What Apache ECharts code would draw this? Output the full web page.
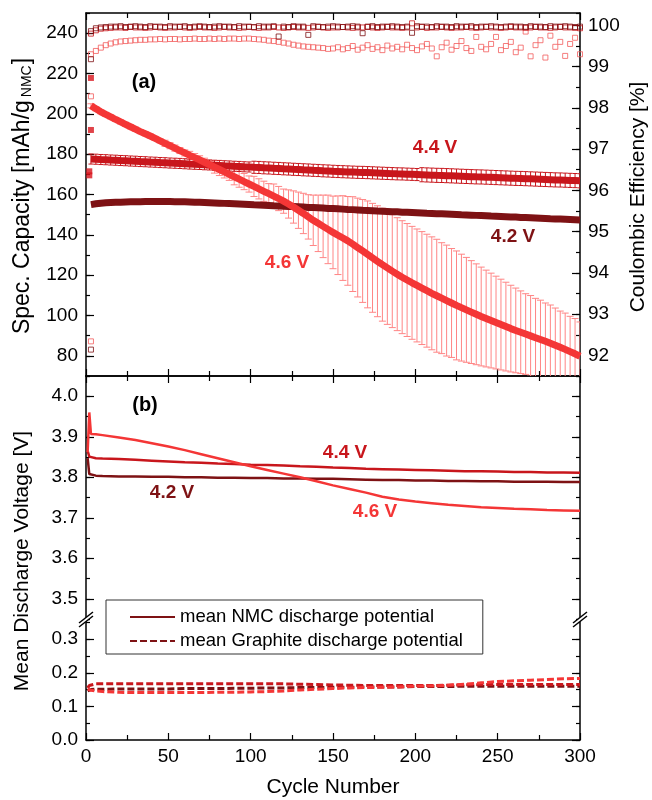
<!DOCTYPE html>
<html><head><meta charset="utf-8">
<script src="https://cdn.jsdelivr.net/npm/echarts@6.0.0/dist/echarts.min.js"></script>
<style>html,body{margin:0;padding:0;background:#fff}#c{width:652px;height:800px}</style>
</head><body><div id="c"></div>
<script>
// ---------- DATA ----------
const cycles = [3,6,9,12,15,18,21,24,27,30,33,36,39,42,45,48,51,54,57,60,63,66,69,72,75,78,81,84,87,90,93,96,99,102,105,108,111,114,117,120,123,126,129,132,135,138,141,144,147,150,153,156,159,162,165,168,171,174,177,180,183,186,189,192,195,198,201,204,207,210,213,216,219,222,225,228,231,234,237,240,243,246,249,252,255,258,261,264,267,270,273,276,279,282,285,288,291,294,297,300];
const cap42 = [155.0,155.4,155.7,155.9,156.0,156.1,156.2,156.3,156.35,156.4,156.45,156.5,156.5,156.5,156.5,156.5,156.5,156.45,156.4,156.35,156.3,156.2,156.1,156.0,155.9,155.8,155.7,155.6,155.5,155.4,155.3,155.2,155.05,154.9,154.8,154.7,154.55,154.4,154.3,154.2,154.1,154.0,153.9,153.75,153.6,153.5,153.4,153.25,153.1,153.0,152.9,152.75,152.6,152.5,152.35,152.2,152.1,151.95,151.8,151.7,151.6,151.5,151.4,151.25,151.15,151.05,150.95,150.85,150.7,150.6,150.5,150.4,150.3,150.2,150.1,149.95,149.85,149.75,149.65,149.55,149.45,149.3,149.2,149.1,149.0,148.9,148.8,148.65,148.55,148.45,148.35,148.25,148.15,148.0,147.9,147.8,147.7,147.6,147.5,147.4];
const cap44 = [177.6,177.5,177.35,177.25,177.1,177.0,176.85,176.75,176.6,176.5,176.35,176.25,176.1,176.0,175.85,175.75,175.6,175.5,175.4,175.25,175.1,175.0,174.9,174.75,174.65,174.5,174.4,174.25,174.15,174.0,173.9,173.75,173.65,173.5,173.4,173.25,173.15,173.0,172.9,172.75,172.65,172.5,172.4,172.25,172.15,172.0,171.9,171.75,171.65,171.5,171.4,171.3,171.2,171.1,171.0,170.95,170.85,170.75,170.65,170.55,170.45,170.35,170.25,170.2,170.1,170.0,169.9,169.8,169.7,169.6,169.5,169.45,169.35,169.25,169.15,169.05,168.95,168.85,168.75,168.7,168.6,168.5,168.4,168.3,168.2,168.1,168.0,167.95,167.85,167.75,167.65,167.55,167.45,167.35,167.25,167.2,167.1,167.0,166.9,166.8];
const sd44 = [2.5,2.5,2.5,2.5,2.5,2.5,2.5,2.5,2.5,2.5,2.5,2.5,2.5,2.5,2.5,2.5,2.5,2.5,2.5,2.5,2.5,2.5,2.5,2.5,2.5,2.5,2.5,2.5,2.5,2.5,2.5,2.5,2.5,3,3,3,3,3,3,3,3,3,3,3,3,3,3,3,3,3,3,3,3,3,3,3,3,3,3,3,3,3,3,3,3,3,3,3.5,3.5,3.5,3.5,3.5,3.5,3.5,3.5,3.5,3.5,3.5,3.5,3.5,3.5,3.5,3.5,3.5,3.5,3.5,3.5,3.5,3.5,3.5,3.5,3.5,3.5,3.5,3.5,3.5,3.5,3.5,3.5,3.5];
const cap46 = [204.0,202.5,201.0,199.7,198.5,197.2,196.0,194.8,193.6,192.4,191.2,190.1,189.0,187.8,186.6,185.4,184.2,183.0,181.8,180.6,179.4,178.3,177.2,176.0,174.8,173.6,172.4,171.2,170.0,168.8,167.6,166.4,165.2,164.0,162.8,161.6,160.4,159.2,158.0,156.7,155.3,153.8,152.2,150.6,148.9,147.2,145.7,144.2,142.7,141.2,139.8,138.4,137.0,135.4,133.7,132.0,130.3,128.6,126.9,125.2,123.6,122.0,120.5,119.0,117.6,116.2,114.9,113.6,112.3,111.0,109.8,108.6,107.4,106.2,105.0,103.9,102.8,101.7,100.6,99.5,98.5,97.5,96.5,95.5,94.5,93.5,92.6,91.7,90.8,89.9,89.0,88.1,87.2,86.2,85.2,84.2,83.2,82.1,81.0,79.8];
const sd46 = [1,1,1,1,1,1,1,1,1,1,1,1,1,1,1,1.5,1.5,1.5,1.5,1.5,2,2,2,2,2,3,3,3,3,4,4,4,4,5,5,5,5,6,6,6,7,8,9,10,11,12.5,14,15.5,17,18,19.5,21,22,23.5,24.5,25.5,26.5,27,27.5,28,28,28,28,28,28,28,28,28,28,28,28,27.5,27.5,27,27,26.5,26,25.5,25,24.5,24,23.5,23,22.5,22,21.5,21,20.5,20,20,19.5,19.5,19,19,18.5,18,18,17.5,17.5,17];
const ce42 = [99.86,99.93,99.95,99.96,99.97,99.97,99.98,99.96,99.97,99.98,99.97,99.96,99.98,99.97,99.97,99.96,99.98,99.97,99.97,99.98,99.96,99.97,99.98,99.97,99.96,99.97,99.98,99.97,99.97,99.96,99.98,99.97,99.97,99.96,99.98,99.97,99.97,99.98,99.73,99.97,99.96,99.98,99.97,99.97,99.77,99.98,99.97,99.96,99.97,99.98,99.97,99.96,99.97,99.98,99.97,99.81,99.97,99.98,99.96,99.97,99.97,99.98,99.97,99.96,99.97,99.82,99.98,99.97,99.97,99.96,99.98,99.97,99.97,99.96,99.98,99.97,99.97,99.98,99.96,99.97,99.97,99.98,99.97,99.96,99.97,99.98,99.97,99.97,99.96,99.98,99.97,99.97,99.96,99.98,99.97,99.97,99.98,99.97,99.96,99.97];
const ce44 = [99.80,99.88,99.92,99.93,99.94,99.95,99.95,99.94,99.96,99.95,99.95,99.94,99.95,99.96,99.95,99.94,99.95,99.95,99.96,99.95,99.94,99.95,99.96,99.95,99.95,99.94,99.95,99.96,99.95,99.95,99.94,99.95,99.96,99.95,99.94,99.95,99.95,99.96,99.95,99.94,99.95,99.96,99.95,99.95,99.94,99.95,99.96,99.95,99.94,99.95,99.95,99.96,99.95,99.94,99.95,99.95,99.96,99.95,99.94,99.95,99.96,99.95,99.95,99.94,99.95,100.05,99.95,99.96,99.94,99.95,99.95,99.96,99.95,99.94,99.95,99.95,99.96,99.95,99.94,99.95,99.96,99.95,99.95,99.94,99.95,99.96,99.95,99.95,99.94,99.95,99.96,99.95,99.95,99.94,99.95,99.96,99.95,99.95,99.94,99.93];
const ce46 = [99.30,99.38,99.46,99.52,99.56,99.59,99.61,99.62,99.63,99.64,99.65,99.65,99.66,99.66,99.67,99.66,99.67,99.67,99.66,99.67,99.67,99.68,99.67,99.67,99.68,99.67,99.68,99.67,99.68,99.68,99.67,99.68,99.68,99.67,99.66,99.65,99.63,99.62,99.60,99.58,99.56,99.53,99.51,99.49,99.48,99.47,99.46,99.45,99.43,99.44,99.47,99.42,99.45,99.50,99.41,99.46,99.52,99.43,99.47,99.40,99.51,99.44,99.48,99.42,99.53,99.45,99.40,99.49,99.55,99.44,99.25,99.47,99.58,99.41,99.50,99.62,99.45,99.38,99.72,99.48,99.42,99.55,99.72,99.40,99.50,99.60,99.35,99.46,99.85,99.25,99.52,99.64,99.22,99.75,99.48,99.60,99.26,99.55,99.70,99.30];
// formation cycles
const formCapCycles = [2, 2, 3, 3];
const formCapVals = [169.5, 171.5, 192.0, 217.8];
const formCECycles = [3, 3];
const formCE42 = [92.14, 99.18];
const formCE46 = [92.34, 98.28];
// lower panel (mean discharge potentials)
const vCycles = [1,2,3,6,10,20,30,40,50,60,70,80,90,100,110,120,130,140,150,160,170,180,190,200,210,220,230,240,250,260,270,280,290,300];
const nmc42 = [3.847,3.808,3.806,3.804,3.803,3.802,3.802,3.801,3.801,3.800,3.800,3.799,3.799,3.798,3.798,3.797,3.797,3.796,3.796,3.795,3.794,3.793,3.793,3.792,3.792,3.791,3.791,3.790,3.790,3.789,3.789,3.789,3.788,3.788];
const nmc44 = [3.865,3.851,3.848,3.847,3.846,3.845,3.843,3.841,3.839,3.837,3.836,3.834,3.833,3.831,3.830,3.829,3.827,3.826,3.824,3.823,3.821,3.820,3.819,3.818,3.817,3.816,3.815,3.815,3.814,3.813,3.813,3.812,3.812,3.811];
const nmc46 = [3.862,3.960,3.907,3.906,3.904,3.898,3.892,3.884,3.876,3.867,3.857,3.847,3.837,3.827,3.818,3.809,3.800,3.790,3.780,3.771,3.762,3.752,3.745,3.740,3.736,3.732,3.729,3.726,3.724,3.722,3.721,3.719,3.718,3.717];
const gr42 = [0.146,0.149,0.150,0.151,0.151,0.152,0.152,0.152,0.152,0.153,0.153,0.153,0.154,0.154,0.155,0.155,0.156,0.156,0.157,0.157,0.158,0.158,0.158,0.159,0.159,0.159,0.160,0.160,0.160,0.160,0.160,0.160,0.160,0.160];
const gr44 = [0.155,0.162,0.165,0.167,0.167,0.167,0.167,0.167,0.167,0.167,0.167,0.167,0.167,0.167,0.167,0.167,0.166,0.165,0.164,0.163,0.162,0.162,0.162,0.162,0.162,0.163,0.164,0.165,0.165,0.165,0.165,0.165,0.165,0.165];
const gr46 = [0.152,0.150,0.148,0.146,0.144,0.142,0.141,0.141,0.141,0.141,0.141,0.142,0.142,0.143,0.144,0.146,0.149,0.151,0.153,0.155,0.156,0.157,0.158,0.160,0.161,0.163,0.166,0.170,0.174,0.176,0.178,0.180,0.182,0.183];
// tick label values
const capMajors = [80,100,120,140,160,180,200,220,240];
const ceMajors = [92,93,94,95,96,97,98,99,100];
const vHiMajors = [3.5,3.6,3.7,3.8,3.9,4.0];
const vLoMajors = [0.0,0.1,0.2,0.3];
const legendNames = ['mean NMC discharge potential','mean Graphite discharge potential'];

// ---------- STYLE ----------
const FONT = '"Liberation Sans", Arial, Helvetica, sans-serif';
const C42 = '#7e1214', C44 = '#c8161c', C46 = '#f43636', CERR = '#ff8585', CCE46 = '#f25c5c';
const AX = {color:'#000', width:1.5};
const TK = {color:'#000', width:1.2};

const pairs = (xs, ys) => xs.map((x, i) => [x, ys[i]]);

function xAx(gi, pos, extra) {
  return Object.assign({
    type:'value', gridIndex:gi, position:pos, min:0, max:300, interval:50,
    axisLine:{show:true, onZero:false, lineStyle:AX},
    axisTick:{show:true, inside:true, length:7, lineStyle:TK},
    minorTick:{show:true, splitNumber:2, length:5, lineStyle:TK},
    splitLine:{show:false}, minorSplitLine:{show:false},
    axisLabel:{show:false}
  }, extra || {});
}
function yMain(gi, pos, min, max, step, fmt) {
  return {
    type:'value', gridIndex:gi, position:pos, min, max, interval:step,
    axisLine:{show:true, onZero:false, lineStyle:AX},
    axisTick:{show:true, inside:true, length:4, lineStyle:TK},
    splitLine:{show:false},
    axisLabel: fmt ? {show:true, formatter:fmt, fontSize:19, color:'#000', fontFamily:FONT, margin:8} : {show:false}
  };
}
function yMajor(gi, pos, min, max, majors) {
  return {
    type:'value', gridIndex:gi, position:pos, min, max,
    axisLine:{show:false, onZero:false},
    axisTick:{show:true, inside:true, length:8, lineStyle:TK, customValues:majors},
    axisLabel:{show:false, customValues:majors},
    splitLine:{show:false}
  };
}
const fmtCap = v => (capMajors.indexOf(Math.round(v)) >= 0 && Math.abs(v - Math.round(v)) < 1e-6) ? String(Math.round(v)) : '';
const fmtCE = v => (ceMajors.indexOf(Math.round(v)) >= 0 && Math.abs(v - Math.round(v)) < 1e-6) ? String(Math.round(v)) : '';
const fmtTenth = list => v => {
  const t = Math.round(v * 10);
  return (Math.abs(v * 10 - t) < 1e-6 && list.some(m => Math.abs(m - t / 10) < 1e-9)) ? (t / 10).toFixed(1) : '';
};

function errRender(color, capW, lw) {
  return function (params, api) {
    const x = api.value(0);
    const lo = api.coord([x, api.value(1)]);
    const hi = api.coord([x, api.value(2)]);
    const h = capW / 2;
    const st = {stroke:color, lineWidth:lw};
    return {type:'group', children:[
      {type:'line', shape:{x1:lo[0], y1:lo[1], x2:hi[0], y2:hi[1]}, style:st},
      {type:'line', shape:{x1:hi[0]-h, y1:hi[1], x2:hi[0]+h, y2:hi[1]}, style:st},
      {type:'line', shape:{x1:lo[0]-h, y1:lo[1], x2:lo[0]+h, y2:lo[1]}, style:st}
    ]};
  };
}
const errData = (xs, m, s) => xs.map((x, i) => [x, m[i] - s[i], m[i] + s[i]]);
const hollow = c => ({color:'rgba(255,255,255,0)', borderColor:c, borderWidth:1});

function brk(x, y) {
  return {type:'group', x, y, z:100, children:[
    {type:'polygon', z:100, shape:{points:[[-7,4],[7,-7],[7,-3],[-7,8]]}, style:{fill:'#fff', stroke:null}},
    {type:'line', z:101, shape:{x1:-7, y1:4, x2:7, y2:-7}, style:{stroke:'#000', lineWidth:1.5}},
    {type:'line', z:101, shape:{x1:-7, y1:8, x2:7, y2:-3}, style:{stroke:'#000', lineWidth:1.5}}
  ]};
}
function label(text, x, y, color, size) {
  return {type:'text', x, y, z:50, style:{text, fill:color, fontSize:size || 19, fontWeight:'bold', fontFamily:FONT, align:'center', verticalAlign:'middle'}};
}
function vtitle(text, x, y, size, rich) {
  return {type:'text', x, y, rotation:Math.PI/2, z:50, style:{text, fill:'#000', fontSize:size, fontFamily:FONT, align:'center', verticalAlign:'middle', rich:rich || undefined}};
}

const option = {
  animation:false,
  backgroundColor:'#fff',
  grid:[
    {left:86, top:13, width:494, height:363},
    {left:86, top:376, width:494, height:243},
    {left:86, top:619, width:494, height:121}
  ],
  xAxis:[
    xAx(0, 'bottom'),
    xAx(0, 'top'),
    xAx(1, 'top'),
    xAx(2, 'bottom', {axisLabel:{show:true, fontSize:19, color:'#000', fontFamily:FONT, margin:7}})
  ],
  yAxis:[
    yMain(0, 'left', 70, 250, 10, fmtCap),
    yMajor(0, 'left', 70, 250, capMajors),
    yMain(0, 'right', 91.5, 100.3, 0.5, fmtCE),
    yMajor(0, 'right', 91.5, 100.3, ceMajors),
    yMain(1, 'left', 3.45, 4.05, 0.05, fmtTenth(vHiMajors)),
    yMajor(1, 'left', 3.45, 4.05, vHiMajors),
    yMain(1, 'right', 3.45, 4.05, 0.05, null),
    yMajor(1, 'right', 3.45, 4.05, vHiMajors),
    yMain(2, 'left', 0, 0.36, 0.05, fmtTenth(vLoMajors)),
    yMajor(2, 'left', 0, 0.36, vLoMajors),
    yMain(2, 'right', 0, 0.36, 0.05, null),
    yMajor(2, 'right', 0, 0.36, vLoMajors)
  ],
  legend:{
    data:legendNames, orient:'vertical', left:106, top:600,
    padding:[7,20,3,23], itemGap:4, itemWidth:45, itemHeight:14,
    borderColor:'#333', borderWidth:1, backgroundColor:'#fff', selectedMode:false,
    itemStyle:{opacity:0},
    textStyle:{fontSize:18.5, color:'#000', fontFamily:FONT, lineHeight:20}
  },
  series:[
    {type:'custom', name:'sd 4.6', xAxisIndex:0, yAxisIndex:0, clip:true, z:1, silent:true,
     renderItem:errRender(CERR, 7, 1), encode:{x:0, y:[1,2]}, data:errData(cycles, cap46, sd46)},
    {type:'custom', name:'sd 4.4', xAxisIndex:0, yAxisIndex:0, clip:true, z:1, silent:true,
     renderItem:errRender(C44, 5, 1), encode:{x:0, y:[1,2]}, data:errData(cycles, cap44, sd44)},
    {type:'line', name:'cap 4.2', xAxisIndex:0, yAxisIndex:0, symbol:'none', z:2, silent:true,
     lineStyle:{width:7, color:C42}, itemStyle:{color:C42}, data:pairs(cycles, cap42)},
    {type:'line', name:'cap 4.4', xAxisIndex:0, yAxisIndex:0, symbol:'none', z:2, silent:true,
     lineStyle:{width:7, color:C44}, itemStyle:{color:C44}, data:pairs(cycles, cap44)},
    {type:'line', name:'cap 4.6', xAxisIndex:0, yAxisIndex:0, symbol:'none', z:3, silent:true,
     lineStyle:{width:7, color:C46}, itemStyle:{color:C46}, data:pairs(cycles, cap46)},
    {type:'scatter', name:'form cap', xAxisIndex:0, yAxisIndex:0, symbol:'rect', symbolSize:6, z:3,
     itemStyle:{color:'#d8141c'}, data:pairs(formCapCycles, formCapVals)},
    {type:'scatter', name:'CE 4.6', xAxisIndex:0, yAxisIndex:2, symbol:'rect', symbolSize:5, z:4,
     itemStyle:hollow(CCE46), data:pairs(cycles, ce46).concat(pairs(formCECycles, formCE46))},
    {type:'scatter', name:'CE 4.4', xAxisIndex:0, yAxisIndex:2, symbol:'rect', symbolSize:5, z:4,
     itemStyle:hollow(C44), data:pairs(cycles, ce44)},
    {type:'scatter', name:'CE 4.2', xAxisIndex:0, yAxisIndex:2, symbol:'rect', symbolSize:5, z:4,
     itemStyle:hollow(C42), data:pairs(cycles, ce42).concat(pairs(formCECycles, formCE42))},
    {type:'line', name:legendNames[0], xAxisIndex:2, yAxisIndex:4, symbol:'none', z:3,
     lineStyle:{width:2.5, color:C42}, itemStyle:{color:C42}, data:pairs(vCycles, nmc42)},
    {type:'line', name:'NMC 4.4', xAxisIndex:2, yAxisIndex:4, symbol:'none', z:3,
     lineStyle:{width:2.5, color:C44}, itemStyle:{color:C44}, data:pairs(vCycles, nmc44)},
    {type:'line', name:'NMC 4.6', xAxisIndex:2, yAxisIndex:4, symbol:'none', z:3,
     lineStyle:{width:2.5, color:C46}, itemStyle:{color:C46}, data:pairs(vCycles, nmc46)},
    {type:'line', name:legendNames[1], xAxisIndex:3, yAxisIndex:8, symbol:'none', z:3,
     lineStyle:{width:3, color:C42, type:[7,3]}, itemStyle:{color:C42}, data:pairs(vCycles, gr42)},
    {type:'line', name:'GR 4.4', xAxisIndex:3, yAxisIndex:8, symbol:'none', z:3,
     lineStyle:{width:3, color:C44, type:[7,3]}, itemStyle:{color:C44}, data:pairs(vCycles, gr44)},
    {type:'line', name:'GR 4.6', xAxisIndex:3, yAxisIndex:8, symbol:'none', z:3,
     lineStyle:{width:3, color:C46, type:[7,3]}, itemStyle:{color:C46}, data:pairs(vCycles, gr46)}
  ],
  graphic:[
    label('(a)', 144, 82, '#000', 20),
    label('(b)', 145, 405, '#000', 20),
    label('4.4 V', 435, 148, C44),
    label('4.2 V', 513, 237, C42),
    label('4.6 V', 287, 263, C46),
    label('4.4 V', 345, 453, C44),
    label('4.2 V', 172, 493, C42),
    label('4.6 V', 375, 512, C46),
    vtitle('Spec. Capacity [mAh/g{s|NMC}]', 23, 196, 23, {s:{fontSize:14, fontFamily:FONT, fill:'#000', verticalAlign:'bottom', padding:[0,1,0,3]}}),
    vtitle('Mean Discharge Voltage [V]', 22, 561, 21),
    vtitle('Coulombic Efficiency [%]', 638, 197, 21),
    {type:'text', x:333, y:787, z:50, style:{text:'Cycle Number', fill:'#000', fontSize:21, fontFamily:FONT, align:'center', verticalAlign:'middle'}},
    brk(86, 619),
    brk(580, 619)
  ]
};
const chart = echarts.init(document.getElementById('c'), null, {renderer:'canvas', width:652, height:800});
chart.setOption(option);
</script></body></html>
